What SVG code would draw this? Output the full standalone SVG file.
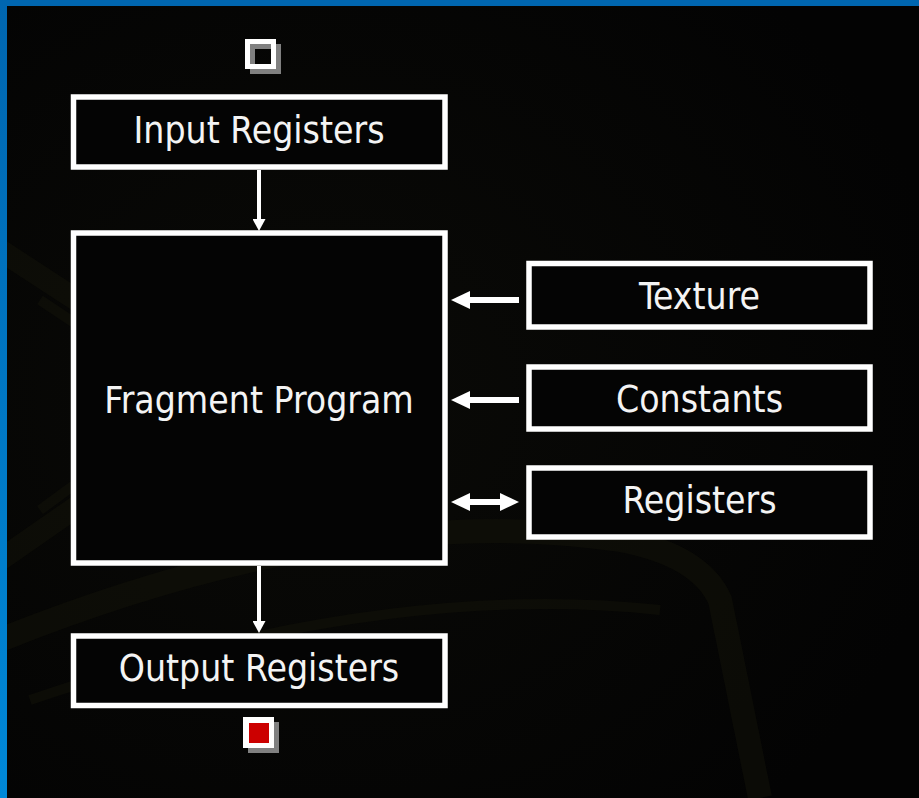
<svg xmlns="http://www.w3.org/2000/svg" width="919" height="798" viewBox="0 0 919 798">
  <defs>
    <linearGradient id="blueLeft" x1="0" y1="0" x2="0" y2="1">
      <stop offset="0" stop-color="#0066b0"/>
      <stop offset="1" stop-color="#0088d8"/>
    </linearGradient>
    <radialGradient id="bgGlow" cx="0.35" cy="0.5" r="0.7">
      <stop offset="0" stop-color="#0a0a07"/>
      <stop offset="1" stop-color="#030303"/>
    </radialGradient>
    <marker id="headV" markerUnits="userSpaceOnUse" markerWidth="12" markerHeight="13" refX="0" refY="6.5" orient="auto">
      <path d="M0,0 L12,6.5 L0,13 z" fill="#ffffff"/>
    </marker>
    <marker id="headH" markerUnits="userSpaceOnUse" markerWidth="19" markerHeight="18" refX="0" refY="9" orient="auto-start-reverse">
      <path d="M0,0 L19,9 L0,18 z" fill="#ffffff"/>
    </marker>
  </defs>
  <style>
    .box { fill: #040404; stroke: #ffffff; stroke-width: 5.5; }
    .label { font-family: "DejaVu Sans Condensed", "DejaVu Sans", "Liberation Sans", sans-serif; font-size: 37px; fill: #f4f4f4; text-anchor: middle; }
    .vline { stroke: #ffffff; stroke-width: 4; fill: none; }
    .hline { stroke: #ffffff; stroke-width: 6; fill: none; }
    .swoosh { fill: none; stroke: #121209; opacity: 0.55; }
  </style>

  <!-- background -->
  <rect x="0" y="0" width="919" height="798" fill="url(#bgGlow)"/>
  <g id="background-swooshes">
    <path class="swoosh" stroke-width="22" d="M0,250 L230,400 L0,560"/>
    <path class="swoosh" stroke-width="10" d="M40,300 L190,400 L40,510"/>
    <path class="swoosh" stroke-width="24" d="M0,640 Q350,500 620,540 Q700,555 720,600 L760,798"/>
    <path class="swoosh" stroke-width="10" d="M30,700 Q380,580 660,610"/>
  </g>

  <!-- blue frame -->
  <rect x="0" y="0" width="919" height="6" fill="#0066b0"/>
  <rect x="0" y="0" width="7" height="798" fill="url(#blueLeft)"/>

  <!-- connectors -->
  <g id="connectors">
    <line class="vline" x1="259" y1="170" x2="259" y2="219" marker-end="url(#headV)"/>
    <line class="vline" x1="259" y1="566" x2="259" y2="621" marker-end="url(#headV)"/>
    <line class="hline" x1="519" y1="300" x2="470" y2="300" marker-end="url(#headH)"/>
    <line class="hline" x1="519" y1="400" x2="470" y2="400" marker-end="url(#headH)"/>
    <line class="hline" x1="500" y1="502" x2="470" y2="502" marker-start="url(#headH)" marker-end="url(#headH)"/>
  </g>

  <!-- start marker -->
  <g id="start-marker">
    <rect x="252.5" y="46.5" width="26" height="25" fill="none" stroke="#808080" stroke-width="5"/>
    <rect x="247.5" y="41.5" width="26" height="25" fill="none" stroke="#ffffff" stroke-width="5"/>
  </g>

  <g id="input-registers">
    <rect class="box" x="73.5" y="97" width="371.5" height="70"/>
    <text class="label" x="259" y="143">Input Registers</text>
  </g>

  <g id="fragment-program">
    <rect class="box" x="73.5" y="233" width="371.5" height="330"/>
    <text class="label" x="259" y="413">Fragment Program</text>
  </g>

  <g id="output-registers">
    <rect class="box" x="73.5" y="636" width="371.5" height="69.5"/>
    <text class="label" x="259" y="681">Output Registers</text>
  </g>

  <g id="texture">
    <rect class="box" x="529" y="263.5" width="341" height="63.5"/>
    <text class="label" x="699.5" y="309">Texture</text>
  </g>

  <g id="constants">
    <rect class="box" x="529" y="367" width="341" height="62"/>
    <text class="label" x="699.5" y="412">Constants</text>
  </g>

  <g id="registers">
    <rect class="box" x="529" y="468" width="341" height="69"/>
    <text class="label" x="699.5" y="513">Registers</text>
  </g>

  <!-- end marker -->
  <g id="end-marker">
    <rect x="248" y="722" width="31" height="31" fill="#808080"/>
    <rect x="243" y="717" width="31" height="31" fill="#ffffff"/>
    <rect x="249" y="723" width="20" height="20" fill="#cc0000"/>
  </g>
</svg>
